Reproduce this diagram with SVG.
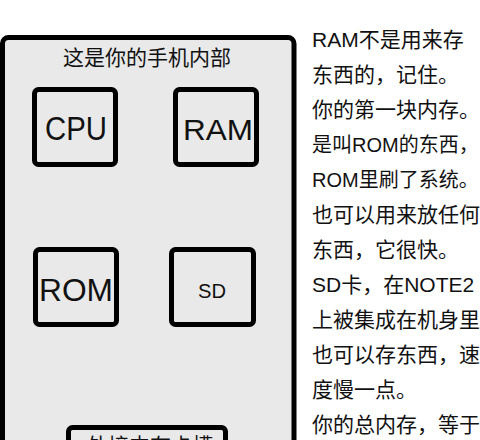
<svg xmlns="http://www.w3.org/2000/svg" width="480" height="440" viewBox="0 0 480 440">
  <style>
    .box { fill: #e9e9e9; stroke: #000; stroke-width: 5; }
    .t { font-family: "Liberation Sans", "Noto Sans CJK SC", sans-serif; fill: #111; }
    .note { font-family: "Liberation Sans", "Noto Sans CJK SC", sans-serif; fill: #111; font-size: 21px; }
    .note.sm { font-size: 20px; }
  </style>
  <rect width="480" height="440" fill="#fff"/>
  <g id="phone">
    <rect class="box" x="2.5" y="37.5" width="291.5" height="440" rx="6"/>
    <text class="t" x="147" y="65" font-size="21" text-anchor="middle">这是你的手机内部</text>
  </g>
  <g id="cpu">
    <rect class="box" x="34.5" y="89.5" width="81" height="75" rx="4"/>
    <text class="t" x="45" y="140" font-size="33" textLength="62" lengthAdjust="spacingAndGlyphs">CPU</text>
  </g>
  <g id="ram">
    <rect class="box" x="175.5" y="89.5" width="81" height="75" rx="4"/>
    <text class="t" x="183" y="140" font-size="30" textLength="70" lengthAdjust="spacingAndGlyphs">RAM</text>
  </g>
  <g id="rom">
    <rect class="box" x="35.5" y="249.5" width="81" height="75" rx="4"/>
    <text class="t" x="39" y="301" font-size="32" textLength="74" lengthAdjust="spacingAndGlyphs">ROM</text>
  </g>
  <g id="sd">
    <rect class="box" x="171.5" y="249.5" width="82" height="75" rx="4"/>
    <text class="t" x="198" y="298" font-size="20" textLength="28" lengthAdjust="spacingAndGlyphs">SD</text>
  </g>
  <g id="slot">
    <rect class="box" x="68.5" y="427.5" width="157" height="60" rx="4"/>
    <text class="t" x="150" y="453" font-size="21" text-anchor="middle">外接内存卡槽</text>
  </g>
  <g id="connectors"></g>
  <g id="notes">
    <text class="note" x="312" y="47">RAM不是用来存</text>
    <text class="note" x="312" y="82">东西的，记住。</text>
    <text class="note" x="312" y="117">你的第一块内存。</text>
    <text class="note sm" x="312" y="152">是叫ROM的东西，</text>
    <text class="note sm" x="312" y="187">ROM里刷了系统。</text>
    <text class="note" x="312" y="222">也可以用来放任何</text>
    <text class="note" x="312" y="257">东西，它很快。</text>
    <text class="note" x="312" y="292">SD卡，在NOTE2</text>
    <text class="note" x="312" y="327">上被集成在机身里</text>
    <text class="note" x="312" y="362">也可以存东西，速</text>
    <text class="note" x="312" y="397">度慢一点。</text>
    <text class="note" x="312" y="432">你的总内存，等于</text>
  </g>
</svg>
